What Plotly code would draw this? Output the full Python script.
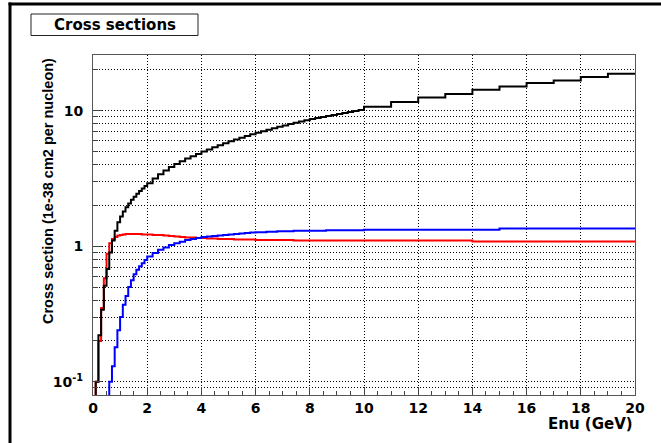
import plotly.graph_objects as go

# Energy bin edges (GeV)
bin_edges = [0.0, 0.1, 0.2, 0.3, 0.4, 0.5, 0.6, 0.7, 0.8, 0.9, 1.0,
             1.1, 1.2, 1.3, 1.4, 1.5, 1.6, 1.7, 1.8, 1.9, 2.0,
             2.2, 2.4, 2.6, 2.8, 3.0, 3.2, 3.4, 3.6, 3.8, 4.0,
             4.2, 4.4, 4.6, 4.8, 5.0, 5.2, 5.4, 5.6, 5.8, 6.0,
             6.2, 6.4, 6.6, 6.8, 7.0, 7.2, 7.4, 7.6, 7.8, 8.0,
             8.2, 8.4, 8.6, 8.8, 9.0, 9.2, 9.4, 9.6, 9.8, 10.0,
             11.0, 12.0, 13.0, 14.0, 15.0, 16.0, 17.0, 18.0, 19.0, 20.0]

xsec_black = [0.04, 0.10, 0.22, 0.34, 0.51, 0.68, 0.90, 1.10, 1.30, 1.50,
              1.66, 1.80, 1.94, 2.07, 2.20, 2.32, 2.44, 2.56, 2.67, 2.78,
              2.92, 3.16, 3.40, 3.62, 3.84, 4.04, 4.24, 4.43, 4.62, 4.80,
              4.99, 5.18, 5.37, 5.56, 5.75, 5.94, 6.13, 6.32, 6.51, 6.70,
              6.88, 7.06, 7.24, 7.42, 7.60, 7.78, 7.96, 8.14, 8.32, 8.50,
              8.67, 8.83, 8.99, 9.15, 9.31, 9.47, 9.63, 9.79, 9.95, 10.11,
              10.7, 11.6, 12.5, 13.3, 14.3, 15.1, 16.0, 16.7, 17.7, 18.7]

xsec_red = [0.03, 0.10, 0.20, 0.35, 0.58, 0.88, 1.05, 1.13, 1.17, 1.20,
            1.21, 1.22, 1.23, 1.23, 1.23, 1.23, 1.23, 1.23, 1.22, 1.22,
            1.22, 1.21, 1.21, 1.20, 1.19, 1.18, 1.17, 1.16, 1.16, 1.15,
            1.15, 1.14, 1.14, 1.13, 1.13, 1.13, 1.12, 1.12, 1.12, 1.12,
            1.11, 1.11, 1.11, 1.11, 1.11, 1.11, 1.11, 1.10, 1.10, 1.10,
            1.10, 1.10, 1.10, 1.10, 1.10, 1.10, 1.10, 1.10, 1.10, 1.10,
            1.10, 1.10, 1.10, 1.10, 1.085, 1.085, 1.085, 1.085, 1.085, 1.085]

xsec_blue = [0.005, 0.005, 0.005, 0.005, 0.005, 0.005, 0.10, 0.13, 0.18, 0.24,
             0.30, 0.37, 0.43, 0.50, 0.56, 0.62, 0.67, 0.71, 0.75, 0.79,
             0.84, 0.89, 0.94, 0.98, 1.02, 1.05, 1.08, 1.11, 1.13, 1.15,
             1.17, 1.18, 1.19, 1.20, 1.21, 1.22, 1.23, 1.24, 1.25, 1.26,
             1.27, 1.27, 1.28, 1.28, 1.29, 1.29, 1.29, 1.30, 1.30, 1.30,
             1.30, 1.30, 1.30, 1.31, 1.31, 1.31, 1.31, 1.31, 1.31, 1.31,
             1.32, 1.32, 1.32, 1.32, 1.32, 1.35, 1.35, 1.35, 1.35, 1.35]

x_major = [0, 2, 4, 6, 8, 10, 12, 14, 16, 18, 20]
x_labels = ["0", "2", "4", "6", "8", "10", "12", "14", "16", "18", "20"]
y_major = [0.1, 1, 10]
y_labels = ["10<sup>-1</sup>", "1", "10"]
y_minor = [0.08, 0.09, 0.2, 0.3, 0.4, 0.5, 0.6, 0.7, 0.8, 0.9,
           2, 3, 4, 5, 6, 7, 8, 9, 20]

title_text = "Cross sections"
x_title = "Enu (GeV)"
y_title = "Cross section (1e-38 cm2 per nucleon)"

FONT = "DejaVu Sans"
FONT_Y = "Liberation Sans"

fig = go.Figure()
for vals, col in [(xsec_red, "#ff0000"), (xsec_black, "black"), (xsec_blue, "#0000ff")]:
    fig.add_trace(go.Scatter(
        x=bin_edges, y=vals + [vals[-1]], mode="lines",
        line=dict(color=col, width=2, shape="hv"),
        showlegend=False, hoverinfo="skip"))

L, R, T, B = 93, 26, 55, 48
W, H = 661, 443
pw, ph = W - L - R, H - T - B


def px(xp):
    return (xp - L) / pw


def py(yp):
    return (H - B - yp) / ph


grid_dash = "1px,2px"
fig.update_layout(
    width=W, height=H,
    margin=dict(l=L, r=R, t=T, b=B),
    paper_bgcolor="white", plot_bgcolor="white",
    font=dict(family=FONT, size=14, color="black", weight="bold"),
    xaxis=dict(
        range=[0, 20], tickvals=x_major, ticktext=x_labels,
        ticks="inside", ticklen=8, tickcolor="#444", tickwidth=1,
        showgrid=True, gridcolor="black", griddash=grid_dash, gridwidth=1,
        showline=True, linecolor="#555", linewidth=1, mirror=True,
        zeroline=False,
        tickfont=dict(family=FONT, size=14, weight="bold"),
        minor=dict(dtick=0.5, tick0=0, ticks="inside", ticklen=4,
                   tickcolor="#444", showgrid=False),
    ),
    yaxis=dict(
        type="log", range=[-1.098, 1.411],
        tickvals=y_major, ticktext=y_labels,
        ticks="inside", ticklen=9, tickcolor="#444", tickwidth=1,
        showgrid=True, gridcolor="black", griddash=grid_dash, gridwidth=1,
        showline=True, linecolor="#555", linewidth=1, mirror=True,
        zeroline=False, ticklabelstandoff=6,
        tickfont=dict(family=FONT, size=14, weight="bold"),
        minor=dict(tickmode="array", tickvals=y_minor, ticks="inside",
                   ticklen=5, tickcolor="#444", showgrid=True,
                   gridcolor="black", griddash=grid_dash, gridwidth=1),
    ),
    shapes=[
        dict(type="line", xref="paper", yref="paper",
             x0=px(10), x1=px(10), y0=py(2.5), y1=py(460),
             line=dict(color="black", width=3)),
        dict(type="line", xref="paper", yref="paper",
             x0=px(8.5), x1=px(680), y0=py(4), y1=py(4),
             line=dict(color="black", width=3)),
        dict(type="rect", xref="paper", yref="paper",
             x0=px(31), x1=px(198), y0=py(35.5), y1=py(14),
             line=dict(color="#222", width=1), fillcolor="white"),
    ],
    annotations=[
        dict(text=title_text, xref="paper", yref="paper",
             x=px(114.5), y=py(25), xanchor="center", yanchor="middle",
             showarrow=False, font=dict(family=FONT, size=15, weight="bold")),
        dict(text=x_title, xref="paper", yref="paper",
             x=px(635), y=py(424), xanchor="right", yanchor="middle",
             showarrow=False, font=dict(family=FONT, size=15, weight="bold")),
        dict(text=y_title, xref="paper", yref="paper", textangle=-90,
             x=px(48), y=py(56), xanchor="center", yanchor="top",
             showarrow=False, font=dict(family=FONT_Y, size=14.5, weight="bold")),
    ],
    hovermode=False,
)

fig.write_html("out.html", config=dict(displayModeBar=False))
